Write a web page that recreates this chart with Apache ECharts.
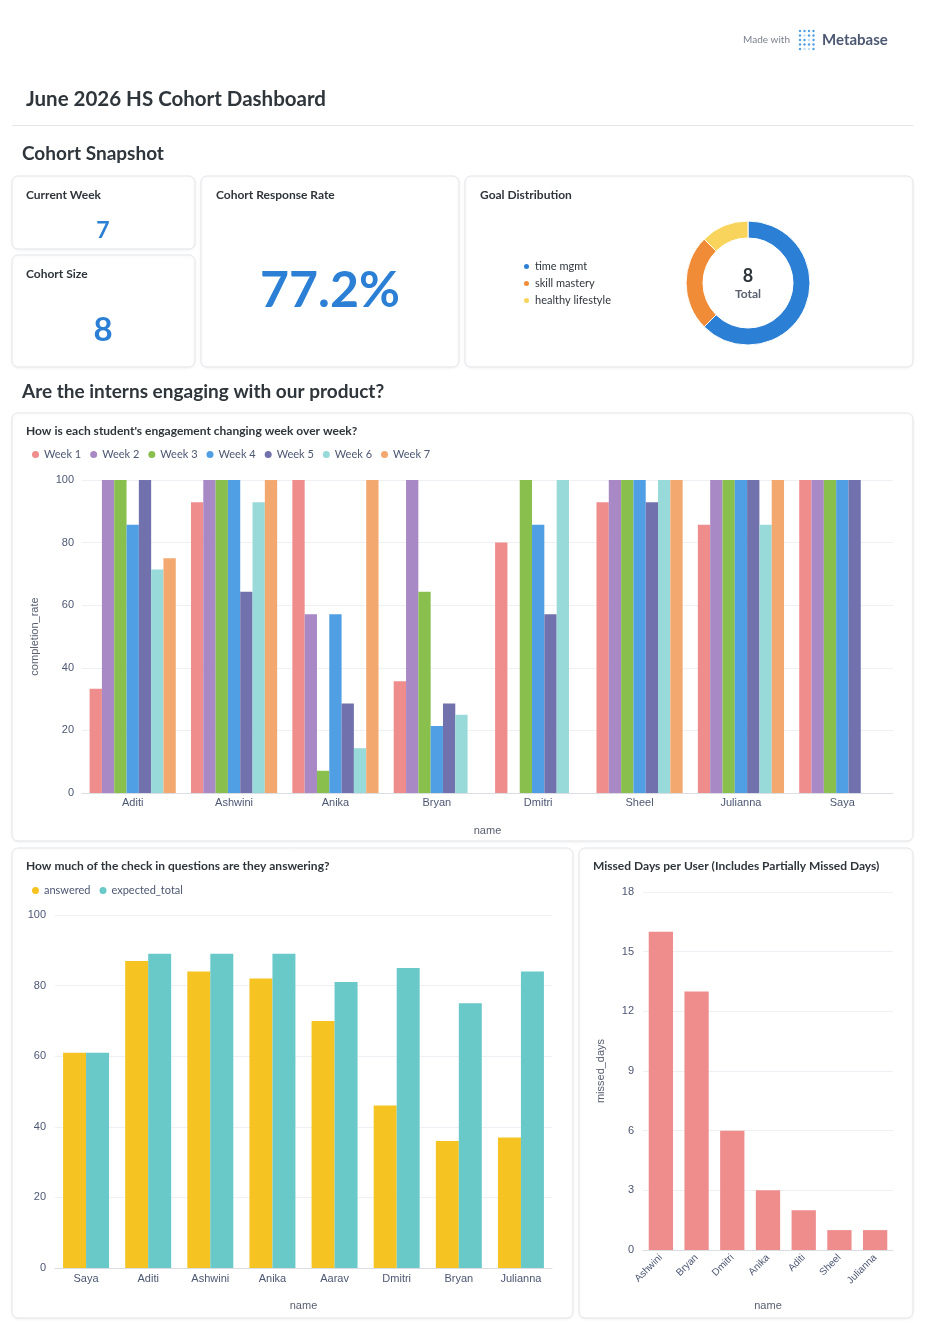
<!DOCTYPE html>
<html><head><meta charset="utf-8">
<script src="https://cdn.jsdelivr.net/npm/echarts@6/dist/echarts.min.js"></script>
<style>html,body{margin:0;padding:0;background:#fff;}#c{width:928px;height:1332px;}</style>
</head><body><div id="c"></div>
<script>
// ---- data ----
const currentWeek = 7;
const cohortSize = 8;
const responseRate = 77.2;
const goalNames = ['time mgmt', 'skill mastery', 'healthy lifestyle'];
const goalCounts = [5, 2, 1];

const engagementStudents = ['Aditi', 'Ashwini', 'Anika', 'Bryan', 'Dmitri', 'Sheel', 'Julianna', 'Saya'];
const weekNames = ['Week 1', 'Week 2', 'Week 3', 'Week 4', 'Week 5', 'Week 6', 'Week 7'];
const week1 = [33.3, 92.9, 100, 35.7, 80, 92.9, 85.7, 100];
const week2 = [100, 100, 57.1, 100, null, 100, 100, 100];
const week3 = [100, 100, 7.1, 64.3, 100, 100, 100, 100];
const week4 = [85.7, 100, 57.1, 21.4, 85.7, 100, 100, 100];
const week5 = [100, 64.3, 28.6, 28.6, 57.1, 92.9, 100, 100];
const week6 = [71.4, 92.9, 14.3, 25, 100, 100, 85.7, null];
const week7 = [75, 100, 100, null, null, 100, 100, null];

const checkinStudents = ['Saya', 'Aditi', 'Ashwini', 'Anika', 'Aarav', 'Dmitri', 'Bryan', 'Julianna'];
const answered = [61, 87, 84, 82, 70, 46, 36, 37];
const expectedTotal = [61, 89, 89, 89, 81, 85, 75, 84];

const missedUsers = ['Ashwini', 'Bryan', 'Dmitri', 'Anika', 'Aditi', 'Sheel', 'Julianna'];
const missedDays = [16, 13, 6, 3, 2, 1, 1];

// ---- styles ----
const weekColors = ['#EF8C8C', '#A989C5', '#88BF4D', '#509EE3', '#7172AD', '#98D9D9', '#F2A86F'];
const BLUE = '#2B7FD4';
const TITLE = '#2E353B';
const axisFont = 'Liberation Sans, Arial, sans-serif';
const LATO = 'Lato, sans-serif';

const chart = echarts.init(document.getElementById('c'), null, {renderer: 'canvas'});

function card(x, y, w, h) {
  return {type: 'rect', z: -10, shape: {x: x, y: y, width: w, height: h, r: 6},
    style: {fill: '#fff', stroke: '#E3E5E9', lineWidth: 1, shadowBlur: 3, shadowColor: 'rgba(0,0,0,0.06)', shadowOffsetY: 1}};
}
function txt(x, y, text, font, fill, align) {
  return {type: 'text', z: 10, style: {x: x, y: y, text: text, font: font, fill: fill,
    textAlign: align || 'left', textVerticalAlign: 'middle'}};
}

const graphics = [
  card(12, 176, 183, 73), card(12, 255, 183, 112), card(201, 176, 258, 191), card(465, 176, 448, 191),
  card(12, 413, 901, 428), card(12, 848, 561, 470), card(579, 848, 334, 470),
  {type: 'rect', z: -5, shape: {x: 12, y: 125, width: 901, height: 1}, style: {fill: '#E4E6EA'}},
  txt(790, 40, 'Made with', '10px ' + LATO, '#7A7F8C', 'right'),
  txt(822, 40, 'Metabase', 'bold 15px ' + LATO, '#4C5773'),
  txt(26, 99, 'June 2026 HS Cohort Dashboard', 'bold 20.5px ' + LATO, TITLE),
  txt(22, 154, 'Cohort Snapshot', 'bold 19px ' + LATO, TITLE),
  txt(22, 392, 'Are the interns engaging with our product?', 'bold 19px ' + LATO, TITLE),
  txt(26, 195, 'Current Week', 'bold 12px ' + LATO, TITLE),
  txt(26, 274, 'Cohort Size', 'bold 12px ' + LATO, TITLE),
  txt(216, 195, 'Cohort Response Rate', 'bold 12px ' + LATO, TITLE),
  txt(480, 195, 'Goal Distribution', 'bold 12px ' + LATO, TITLE),
  txt(103, 231, String(currentWeek), 'bold 23px ' + LATO, BLUE, 'center'),
  txt(103, 330, String(cohortSize), 'bold 33px ' + LATO, BLUE, 'center'),
  txt(330, 291, responseRate.toFixed(1) + '%', 'bold 50px ' + LATO, BLUE, 'center'),
  txt(748, 276, String(goalCounts.reduce((a, b) => a + b, 0)), 'bold 18px ' + LATO, TITLE, 'center'),
  txt(748, 294, 'Total', 'bold 12px ' + LATO, '#5A6072', 'center'),
  txt(26, 431, "How is each student's engagement changing week over week?", 'bold 12px ' + LATO, TITLE),
  txt(26, 866, 'How much of the check in questions are they answering?', 'bold 12px ' + LATO, TITLE),
  txt(593, 866, 'Missed Days per User (Includes Partially Missed Days)', 'bold 12px ' + LATO, TITLE)
];
// Metabase logo dots
const logoRows = [[1,1,1,1],[1,0,1,1],[1,1,0,1],[1,1,1,1],[1,0,0,1]];
for (let r = 0; r < 5; r++) for (let c = 0; c < 4; c++) {
  graphics.push({type: 'circle', z: 10, shape: {cx: 800 + c * 4.5, cy: 31 + r * 4.5, r: 1.2},
    style: {fill: logoRows[r][c] ? '#509EE3' : '#C5DCF3'}});
}

const legendText = {fontFamily: LATO, fontSize: 11, color: '#4C5773'};
const splitLine = {show: true, lineStyle: {color: '#EEF0F3', width: 1}};
const axisLabel = {fontFamily: axisFont, fontSize: 11, color: '#4C5773'};
const nameStyle = {fontFamily: axisFont, fontSize: 11, color: '#5A6072'};

const option = {
  animation: false,
  textStyle: {fontFamily: LATO},
  graphic: graphics,
  legend: [
    {data: weekNames, left: 27, top: 444, icon: 'circle', itemWidth: 7, itemHeight: 7, itemGap: 9, textStyle: legendText, selectedMode: false},
    {data: ['answered', 'expected_total'], left: 27, top: 880, icon: 'circle', itemWidth: 7, itemHeight: 7, itemGap: 9, textStyle: legendText, selectedMode: false},
    {data: goalNames, orient: 'vertical', left: 517, top: 256, icon: 'circle', itemWidth: 7, itemHeight: 7, itemGap: 6, textStyle: {fontFamily: LATO, fontSize: 11, color: TITLE}, selectedMode: false}
  ],
  grid: [
    {left: 82, top: 480, width: 811, height: 313},
    {left: 55, top: 915, width: 497, height: 353},
    {left: 643, top: 892, width: 250, height: 358}
  ],
  xAxis: [
    {gridIndex: 0, type: 'category', data: engagementStudents, axisTick: {show: false}, axisLine: {lineStyle: {color: '#DADDE2'}},
      axisLabel: Object.assign({margin: 4}, axisLabel), name: 'name', nameLocation: 'middle', nameGap: 32, nameTextStyle: nameStyle},
    {gridIndex: 1, type: 'category', data: checkinStudents, axisTick: {show: false}, axisLine: {lineStyle: {color: '#DADDE2'}},
      axisLabel: Object.assign({margin: 5}, axisLabel), name: 'name', nameLocation: 'middle', nameGap: 32, nameTextStyle: nameStyle},
    {gridIndex: 2, type: 'category', data: missedUsers, axisTick: {show: false}, axisLine: {lineStyle: {color: '#DADDE2'}},
      axisLabel: Object.assign({}, axisLabel, {margin: 6, rotate: 45, fontSize: 10}), name: 'name', nameLocation: 'middle', nameGap: 50, nameTextStyle: nameStyle}
  ],
  yAxis: [
    {gridIndex: 0, type: 'value', min: 0, max: 100, interval: 20, splitLine: splitLine, axisLine: {show: false}, axisTick: {show: false},
      axisLabel: Object.assign({margin: 8}, axisLabel), name: 'completion_rate', nameLocation: 'middle', nameGap: 42, nameTextStyle: nameStyle},
    {gridIndex: 1, type: 'value', min: 0, max: 100, interval: 20, splitLine: splitLine, axisLine: {show: false}, axisTick: {show: false},
      axisLabel: Object.assign({margin: 9}, axisLabel)},
    {gridIndex: 2, type: 'value', min: 0, max: 18, interval: 3, splitLine: splitLine, axisLine: {show: false}, axisTick: {show: false},
      axisLabel: Object.assign({margin: 9}, axisLabel), name: 'missed_days', nameLocation: 'middle', nameGap: 37, nameTextStyle: nameStyle}
  ],
  series: []
};

const weekData = [week1, week2, week3, week4, week5, week6, week7];
weekNames.forEach((n, i) => {
  option.series.push({name: n, type: 'bar', xAxisIndex: 0, yAxisIndex: 0, data: weekData[i],
    itemStyle: {color: weekColors[i]}, barGap: '0%', barCategoryGap: '15%'});
});
option.series.push({name: 'answered', type: 'bar', xAxisIndex: 1, yAxisIndex: 1, data: answered,
  itemStyle: {color: '#F5C322'}, barGap: '0%', barCategoryGap: '26%'});
option.series.push({name: 'expected_total', type: 'bar', xAxisIndex: 1, yAxisIndex: 1, data: expectedTotal,
  itemStyle: {color: '#69C8C8'}, barGap: '0%', barCategoryGap: '26%'});
option.series.push({name: 'missed_days', type: 'bar', xAxisIndex: 2, yAxisIndex: 2, data: missedDays,
  itemStyle: {color: '#EF8C8C'}, barCategoryGap: '32%'});
const goalColors = [BLUE, '#F08C38', '#F9D45C'];
option.series.push({name: 'Goal Distribution', type: 'pie', center: [748, 283], radius: [45, 62], startAngle: 90, clockwise: true,
  label: {show: false}, labelLine: {show: false}, itemStyle: {borderColor: '#fff', borderWidth: 1},
  data: goalNames.map((n, i) => ({name: n, value: goalCounts[i], itemStyle: {color: goalColors[i]}}))});

chart.setOption(option);
</script></body></html>
